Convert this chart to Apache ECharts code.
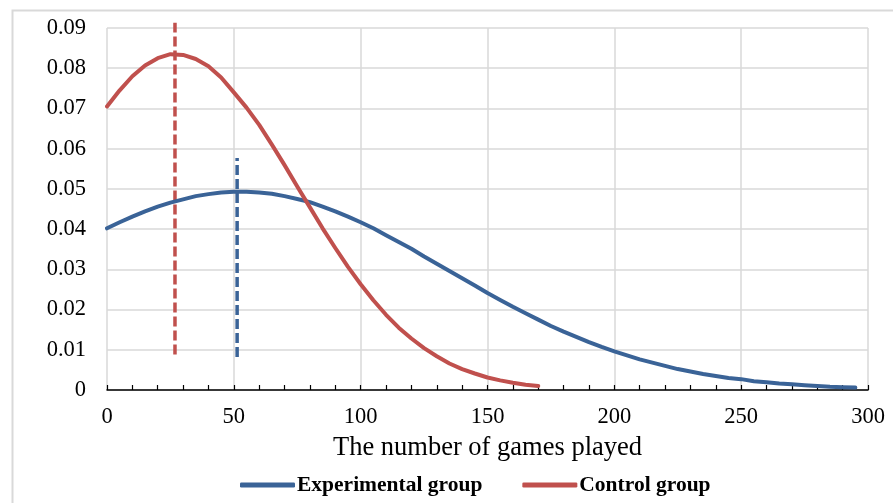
<!DOCTYPE html>
<html>
<head>
<meta charset="utf-8">
<script src="https://cdn.jsdelivr.net/npm/echarts@6/dist/echarts.min.js"></script>
<style>
html,body{margin:0;padding:0;background:#fff;}
#c{width:893px;height:503px;}
</style>
</head>
<body>
<div id="c"></div>
<script>
const seriesNames = ['Experimental group', 'Control group'];
const xTickLabels = ['0', '50', '100', '150', '200', '250', '300'];
const blueX = [0,5,10,15,20,25,30,35,40,45,50,55,60,65,70,75,80,85,90,95,100,105,110,115,120,125,130,135,140,145,150,155,160,165,170,175,180,185,190,195,200,205,210,215,220,225,230,235,240,245,250,255,260,265,270,275,280,285,290,295];
const blueY = [0.0402,0.0417,0.0431,0.0444,0.0456,0.0466,0.0474,0.0482,0.0487,0.0491,0.0493,0.0493,0.0491,0.0488,0.0482,0.0475,0.0467,0.0456,0.0444,0.0431,0.0417,0.0402,0.0385,0.0368,0.0351,0.0332,0.0314,0.0296,0.0278,0.0260,0.0241,0.0224,0.0207,0.0191,0.0175,0.0159,0.0145,0.0132,0.0119,0.0107,0.0096,0.0086,0.0076,0.0068,0.0060,0.0052,0.0046,0.0040,0.0035,0.0030,0.0027,0.0022,0.0019,0.0016,0.0014,0.0012,0.0010,0.0008,0.0007,0.0006];
const redX = [0,5,10,15,20,25,30,35,40,45,50,55,60,65,70,75,80,85,90,95,100,105,110,115,120,125,130,135,140,145,150,155,160,165,170];
const redY = [0.0705,0.0745,0.0780,0.0807,0.0825,0.0835,0.0833,0.0823,0.0805,0.0777,0.0740,0.0702,0.0659,0.0610,0.0559,0.0506,0.0454,0.0402,0.0353,0.0306,0.0263,0.0223,0.0187,0.0155,0.0128,0.0104,0.0084,0.0066,0.0052,0.0041,0.0031,0.0024,0.0018,0.0013,0.0010];
const blueMeanX = [51.3, 51.3];
const blueMeanY = [0.0082, 0.0577];
const redMeanX = [26.8, 26.8];
const redMeanY = [0.0088, 0.0913];

const BLUE = '#3A6397';
const RED = '#C0504D';
const FONT = 'Liberation Serif';
const zip = (xs, ys) => xs.map((x, i) => [x, ys[i]]);

const chart = echarts.init(document.getElementById('c'));
chart.setOption({
  animation: false,
  backgroundColor: '#fff',
  graphic: [{
    type: 'rect', left: 10, top: 8,
    shape: {width: 900, height: 520},
    style: {fill: 'none', stroke: '#d9d9d9', lineWidth: 2},
    silent: true
  }],
  grid: {left: 107, right: 25, top: 28, bottom: 113},
  legend: {
    data: seriesNames,
    left: 235, top: 469,
    icon: 'roundRect',
    itemWidth: 55, itemHeight: 5,
    itemGap: 40,
    textStyle: {fontFamily: FONT, fontWeight: 'bold', fontSize: 21.5, color: '#000', padding: [0,0,0,-3]}
  },
  xAxis: {
    type: 'value', min: 0, max: 300, interval: 50,
    name: 'The number of games played',
    nameLocation: 'middle', nameGap: 45,
    nameTextStyle: {fontFamily: FONT, fontSize: 26.5, color: '#000'},
    axisLine: {show: true, lineStyle: {color: '#000', width: 1.5}},
    axisTick: {show: true, inside: true, length: 5, lineStyle: {color: '#000', width: 1.2}},
    minorTick: {show: true, splitNumber: 5, length: 5, lineStyle: {color: '#000', width: 1.2}},
    axisLabel: {
      margin: 16, fontFamily: FONT, fontSize: 22.5, color: '#000',
      formatter: (v) => xTickLabels[Math.round(v / 50)] ?? String(v)
    },
    splitLine: {show: true, lineStyle: {color: '#d9d9d9', width: 1.5}}
  },
  yAxis: {
    type: 'value', min: 0, max: 0.09, interval: 0.01,
    axisLine: {show: false},
    axisTick: {show: false},
    axisLabel: {
      margin: 21, fontFamily: FONT, fontSize: 22.5, color: '#000',
      formatter: (v) => v === 0 ? '0' : v.toFixed(2)
    },
    splitLine: {show: true, lineStyle: {color: '#d9d9d9', width: 1.5}}
  },
  series: [
    {
      name: seriesNames[0], type: 'line', data: zip(blueX, blueY),
      smooth: false, showSymbol: false, symbol: 'none',
      lineStyle: {color: BLUE, width: 4, cap: 'round', join: 'round'},
      itemStyle: {color: BLUE}, z: 3
    },
    {
      name: seriesNames[1], type: 'line', data: zip(redX, redY),
      smooth: false, showSymbol: false, symbol: 'none',
      lineStyle: {color: RED, width: 4, cap: 'round', join: 'round'},
      itemStyle: {color: RED}, z: 4
    },
    {
      name: 'blueMean', type: 'line', data: zip(blueMeanX, blueMeanY),
      showSymbol: false, symbol: 'none', clip: false,
      lineStyle: {color: BLUE, width: 3.5, type: [10, 4]}, z: 2
    },
    {
      name: 'redMean', type: 'line', data: zip(redMeanX, redMeanY),
      showSymbol: false, symbol: 'none', clip: false,
      lineStyle: {color: RED, width: 3.5, type: [10, 4]}, z: 2
    }
  ]
});
</script>
</body>
</html>
